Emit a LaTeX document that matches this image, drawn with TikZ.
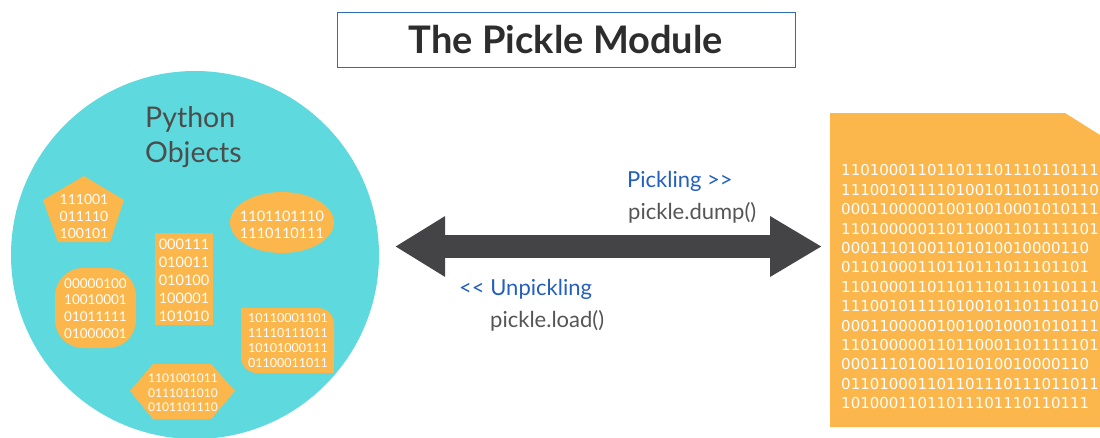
\documentclass[tikz,border=0pt]{standalone}
\usepackage{fontspec}
\setmainfont{Lato}
\newfontfamily\bitsfont{DejaVu Sans}
\usetikzlibrary{arrows.meta}

\definecolor{pyteal}{RGB}{94,218,222}
\definecolor{bitorange}{RGB}{251,182,76}
\definecolor{arrowgray}{RGB}{68,68,70}
\definecolor{titleblue}{RGB}{46,109,180}
\definecolor{titlegray}{RGB}{45,45,45}
\definecolor{labelblue}{RGB}{35,95,190}
\definecolor{labelgray}{RGB}{85,85,85}

\newcommand{\bitsize}[2]{\fontsize{#1}{#2}\selectfont}

\begin{document}
\begin{tikzpicture}[x=1pt,y=-1pt,
    bits/.style={text=white, align=center, inner sep=0pt},
    blob/.style={fill=bitorange},
    lbl/.style={anchor=base west, inner sep=0pt, font=\bitsize{22}{26}},
    bigarrow/.style={arrowgray, line width=23pt,
      {Triangle[length=50pt,width=57pt]}-{Triangle[length=52pt,width=57pt]}}]
    \clip (0,0) rectangle (1100,437);

    % title
    \node[draw=titleblue, line width=0.9pt, minimum width=458, minimum height=55,
      text=titlegray, font=\bfseries\bitsize{38}{38}] (title) at (566,39.5) {The Pickle Module};

    % python objects
    \node[circle, fill=pyteal, minimum size=368, inner sep=0pt] (pyobj) at (195,255) {};
    \node[anchor=north west, align=left, inner sep=0pt, text=labelgray!90!black,
      font=\bitsize{28.5}{35}] (pyname) at (145,106) {Python\\Objects};

    \fill[blob] (84,176) -- (124,200) -- (110,242) -- (58,242) -- (43,200) -- cycle;
    \node[bits, font=\bitsize{14}{17}] (bina) at (84,216) {111001\\011110\\100101};

    \fill[blob] (282,222.5) ellipse [x radius=52, y radius=30.5];
    \node[bits, font=\bitsize{14.5}{17}] (binb) at (282,225) {1101101110\\1110110111};

    \node[blob, minimum width=58, minimum height=92, inner sep=0pt] (binc) at (184,279) {};
    \node[bits, font=\bitsize{14.5}{18}] (bincx) at (184,280.5) {000111\\010011\\010100\\100001\\101010};

    \node[blob, rounded corners=28, minimum width=81, minimum height=80, inner sep=0pt] (bind) at (95.5,308) {};
    \node[bits, font=\bitsize{13.5}{16.7}] (bindx) at (95.5,308.5) {00000100\\10010001\\01011111\\01000001};

    \fill[blob] (241,308) rectangle +(20,20);
    \fill[blob] (334,373) rectangle +(-20,-20);
    \node[blob, rounded corners=16, minimum width=93, minimum height=65, inner sep=0pt] (bine) at (287.5,340.5) {};
    \node[bits, font=\bitsize{12.5}{15}] (binex) at (288,341) {10110001101\\11110111011\\10101000111\\01100011011};

    \fill[blob] (130,391) -- (153,364) -- (211,364) -- (235,391) -- (211,419) -- (153,419) -- cycle;
    \node[bits, font=\bitsize{12}{14.5}] (binf) at (183,393) {1101001011\\0111011010\\0101101110};

    % pickled file
    \fill[blob] (830,113) -- (1065,113) -- (1100,135) -- (1100,427) -- (830,427) -- cycle;
    \node[anchor=north west, align=left, inner sep=0pt, text=white,
      font=\bitsfont\bitsize{15}{19.4}] (pklbits) at (841,164.5) {%
      110100011011011101110110111\\
      111001011110100101101110110\\
      000110000010010010001010111\\
      110100000110110001101111101\\
      00011101001101010010000110\\
      01101000110110111011101101\\
      110100011011011101110110111\\
      111001011110100101101110110\\
      000110000010010010001010111\\
      110100000110110001101111101\\
      00011101001101010010000110\\
      011010001101101110111011011\\
      10100011011011101110110111};

    % pickling / unpickling
    \coordinate (arrL) at (395,246.5);
    \coordinate (arrR) at (822,246.5);
    \draw[bigarrow] (arrL) -- (arrR);

    \node[lbl, text=labelblue] (pickling) at (627,187) {Pickling >\kern0pt>};
    \node[lbl, text=labelgray] (dump) at (628,219) {pickle.dump()};
    \node[lbl, text=labelblue] (unpickling) at (459,295) {<\kern0pt< Unpickling};
    \node[lbl, text=labelgray] (load) at (490,327) {pickle.load()};
  \end{tikzpicture}
\end{document}
